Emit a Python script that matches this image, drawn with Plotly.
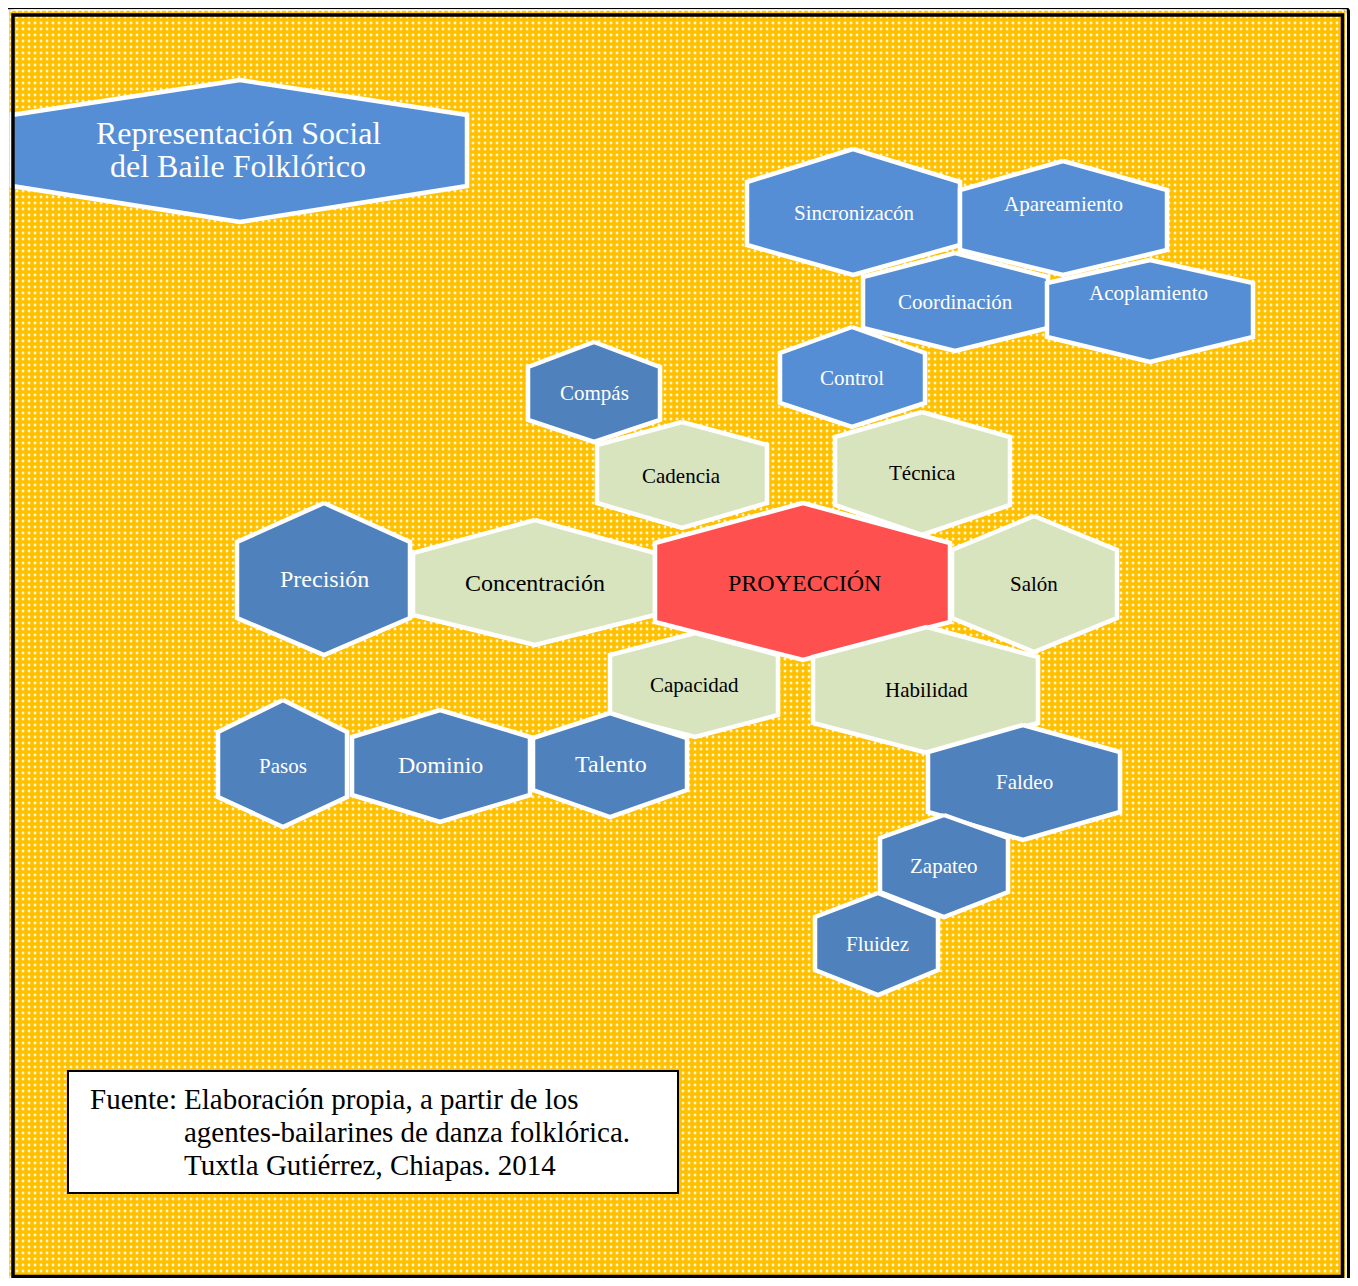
import plotly.graph_objects as go

# ---------------- data (pixel space) ----------------
labels = ["Sincronizacón", "Apareamiento", "Coordinación", "Acoplamiento", "Control",
          "Compás", "Cadencia", "Técnica", "Concentración", "Precisión",
          "PROYECCIÓN", "Salón", "Capacidad", "Habilidad", "Talento",
          "Dominio", "Pasos", "Faldeo", "Zapateo", "Fluidez"]
group = ["light", "light", "light", "light", "light",
         "dark", "green", "green", "green", "dark",
         "red", "green", "green", "green", "dark",
         "dark", "dark", "dark", "dark", "dark"]
hex_left = [747, 960, 863, 1047, 780, 528, 597, 835, 413, 237,
            655, 952, 610, 813, 533, 352, 218, 928, 880, 815]
hex_right = [960, 1167, 1048, 1253, 925, 660, 767, 1010, 655, 410,
             950, 1117, 778, 1038, 687, 530, 347, 1120, 1008, 938]
hex_cx = [853, 1063, 955, 1150, 852, 594, 682, 922, 535, 324,
          803, 1034, 695, 927, 610, 440, 283, 1023, 944, 878]
hex_top = [149, 161, 253, 260, 327, 342, 422, 412, 520, 503,
           503, 516, 633, 627, 713, 710, 700, 725, 815, 893]
hex_upper = [182, 190, 277, 283, 353, 367, 445, 437, 553, 542,
             543, 550, 655, 657, 738, 737, 732, 752, 838, 917]
hex_lower = [245, 250, 328, 337, 403, 420, 503, 505, 615, 618,
             622, 618, 715, 723, 790, 795, 797, 812, 892, 970]
hex_bottom = [275, 275, 351, 362, 427, 442, 528, 535, 645, 655,
              660, 652, 737, 753, 817, 822, 827, 840, 917, 995]
text_x = [854, 1063, 955, 1148, 852, 594, 681, 922, 535, 324,
          804, 1034, 694, 926, 611, 440, 283, 1024, 944, 877]
text_y = [213, 204, 302, 293, 378, 393, 476, 473, 583, 579,
          583, 584, 685, 690, 764, 765, 766, 782, 866, 944]
text_size = [21, 21, 21, 21, 21, 21, 21, 21, 24, 24,
             24, 21, 21, 21, 24, 24, 21, 21, 21, 21]

title_lines = ["Representación Social", "del Baile Folklórico"]
title_hex = dict(left=12, right=467, cx=240, top=80, upper=115, lower=186, bottom=222)
title_line_y = [133, 166]

source_label = "Fuente:"
source_lines = ["Elaboración propia, a partir de los",
                "agentes-bailarines de danza folklórica.",
                "Tuxtla Gutiérrez, Chiapas. 2014"]
source_line_y = [1099, 1132, 1165]

# ---------------- styles ----------------
FILL = {"light": "#558ED5", "dark": "#4F81BD", "green": "#D7E4BD", "red": "#FF5050"}
TEXT = {"light": "white", "dark": "white", "green": "black", "red": "black"}
FONT = "Liberation Serif, Times New Roman, serif"
PAGE_W, PAGE_H, BODY = 1358, 1286, 8   # browser body margin compensated

fig = go.Figure()

# dotted golden background
fig.add_trace(go.Scatter(
    x=[9, 1346, 1346, 9, 9], y=[10, 10, 1300, 1300, 10],
    mode="lines", fill="toself", line=dict(width=0, color="#FFC000"),
    fillcolor="#FFC000",
    fillpattern=dict(shape=".", bgcolor="#FFC000", fgcolor="#FFFFFF",
                     fgopacity=0.85, size=6, solidity=0.18),
    hoverinfo="skip", showlegend=False))


def hexagon(l, r, cx, t, u, lo, b, color):
    fig.add_trace(go.Scatter(
        x=[cx, r, r, cx, l, l, cx], y=[t, u, lo, b, lo, u, t],
        mode="lines", fill="toself", fillcolor=color,
        line=dict(color="white", width=4.5),
        hoverinfo="skip", showlegend=False))


# title hexagon
hexagon(title_hex["left"], title_hex["right"], title_hex["cx"], title_hex["top"],
        title_hex["upper"], title_hex["lower"], title_hex["bottom"], FILL["light"])
for line, yy in zip(title_lines, title_line_y):
    fig.add_annotation(x=238, y=yy, text=line, showarrow=False, xref="x", yref="y",
                       font=dict(family=FONT, size=32, color="white"),
                       xanchor="center", yanchor="middle")

for i, lab in enumerate(labels):
    hexagon(hex_left[i], hex_right[i], hex_cx[i], hex_top[i], hex_upper[i],
            hex_lower[i], hex_bottom[i], FILL[group[i]])
    fig.add_annotation(x=text_x[i], y=text_y[i], text=lab, showarrow=False,
                       xref="x", yref="y",
                       font=dict(family=FONT, size=text_size[i], color=TEXT[group[i]]),
                       xanchor="center", yanchor="middle")

# frames
shapes = [
    # outer rounded frame
    dict(type="path", layer="above",
         path="M 5,1300 L 5,17 Q 5,7 15,7 L 1339,7 Q 1349,7 1349,17 L 1349,1300",
         line=dict(color="black", width=4.5)),
    # white gap between frames
    dict(type="rect", layer="above", x0=8.5, x1=1346, y0=10, y1=1300,
         line=dict(color="white", width=1.5), fillcolor="rgba(0,0,0,0)"),
    # inner frame
    dict(type="rect", layer="above", x0=13, x1=1342.5, y0=15, y1=1276.5,
         line=dict(color="black", width=3.5), fillcolor="rgba(0,0,0,0)"),
    # source box
    dict(type="rect", layer="above", x0=68, x1=678, y0=1071, y1=1193,
         line=dict(color="black", width=2), fillcolor="white"),
]

fig.add_annotation(x=88, y=source_line_y[0], text=source_label, showarrow=False,
                   xref="x", yref="y", xanchor="left", yanchor="middle",
                   font=dict(family=FONT, size=29, color="black"))
for line, yy in zip(source_lines, source_line_y):
    fig.add_annotation(x=182, y=yy, text=line, showarrow=False, xref="x", yref="y",
                       xanchor="left", yanchor="middle",
                       font=dict(family=FONT, size=29, color="black"))

fig.update_layout(
    width=PAGE_W - 2 * BODY, height=PAGE_H - 2 * BODY,
    margin=dict(l=0, r=0, t=0, b=0),
    paper_bgcolor="white", plot_bgcolor="white",
    xaxis=dict(range=[BODY, PAGE_W - BODY], visible=False, fixedrange=True),
    yaxis=dict(range=[PAGE_H - BODY, BODY], visible=False, fixedrange=True),
    shapes=shapes, showlegend=False)

fig.write_html("out.html")
